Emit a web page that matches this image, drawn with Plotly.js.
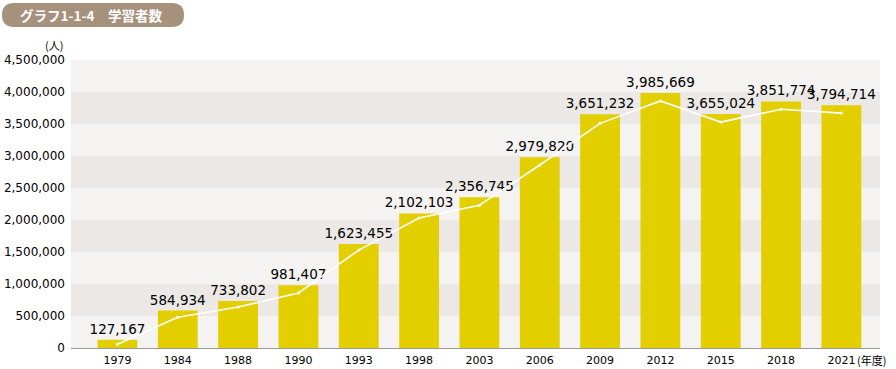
<!DOCTYPE html>
<html>
<head>
<meta charset="utf-8">
<script src="https://cdn.plot.ly/plotly-3.0.1.min.js"></script>
<style>html,body{margin:0;padding:0;background:#fff;}#chart{width:896px;height:369px;}</style>
</head>
<body>
<div id="chart"></div>
<script>
// ---- data ----
const years = ['1979','1984','1988','1990','1993','1998','2003','2006','2009','2012','2015','2018','2021'];
const learners = [127167, 584934, 733802, 981407, 1623455, 2102103, 2356745, 2979820, 3651232, 3985669, 3655024, 3851774, 3794714];
// white trend line
const lineValues = [60000, 480000, 640000, 860000, 1530000, 2030000, 2230000, 2860000, 3510000, 3860000, 3530000, 3730000, 3670000];
const labels = learners.map(v => v.toLocaleString('en-US'));
const titleText = 'グラフ1-1-4　学習者数';
const yUnit = '(人)';
const xUnit = '(年度)';

// ---- geometry helpers (layout) ----
const W = 896, H = 369;
const L = 71, R = 880, T = 60, B = 348;
const px = x => (x - L) / (R - L);
const py = y => (B - y) / (B - T);

const bands = [];
for (let k = 0; k < 9; k++) {
  bands.push({
    type: 'rect', xref: 'paper', yref: 'y', layer: 'below',
    x0: 0, x1: 1, y0: k * 500000, y1: (k + 1) * 500000,
    fillcolor: (k % 2 === 1) ? '#ebe8e5' : '#f5f3f1', line: {width: 0}
  });
}
// badge (pill)
const bx0 = 2, bx1 = 184, by0 = 3, by1 = 27, r = 12;
const badgePath =
  'M ' + px(bx0 + r) + ' ' + py(by0) +
  ' L ' + px(bx1 - r) + ' ' + py(by0) +
  ' Q ' + px(bx1) + ' ' + py(by0) + ' ' + px(bx1) + ' ' + py((by0 + by1) / 2) +
  ' Q ' + px(bx1) + ' ' + py(by1) + ' ' + px(bx1 - r) + ' ' + py(by1) +
  ' L ' + px(bx0 + r) + ' ' + py(by1) +
  ' Q ' + px(bx0) + ' ' + py(by1) + ' ' + px(bx0) + ' ' + py((by0 + by1) / 2) +
  ' Q ' + px(bx0) + ' ' + py(by0) + ' ' + px(bx0 + r) + ' ' + py(by0) + ' Z';
const shapes = bands.concat([
  {type: 'path', xref: 'paper', yref: 'paper', path: badgePath,
   fillcolor: '#a6917d', line: {width: 0}, layer: 'above'}
]);

const traces = [
  {
    type: 'bar', x: years, y: learners,
    marker: {color: '#e3cf00'},
    text: labels, textposition: 'outside', cliponaxis: false, constraintext: 'none',
    textfont: {family: 'DejaVu Sans', size: 13.5, color: '#000000'},
    hoverinfo: 'skip'
  },
  {
    type: 'scatter', mode: 'lines+markers', x: years, y: lineValues,
    line: {color: '#ffffff', width: 1.6},
    marker: {color: '#ffffff', size: 3},
    hoverinfo: 'skip', cliponaxis: false
  }
];

const layout = {
  width: W, height: H,
  margin: {l: L, r: W - R, t: T, b: H - B, pad: 0},
  paper_bgcolor: '#ffffff', plot_bgcolor: '#f5f3f1',
  showlegend: false, bargap: 0.34,
  font: {family: 'DejaVu Sans', color: '#000000'},
  xaxis: {
    type: 'category', range: [-0.77, 12.64], showgrid: false, zeroline: false,
    ticks: '', showline: true, linecolor: '#9a9a9a', linewidth: 1,
    tickfont: {family: 'DejaVu Sans', size: 11, color: '#000000'},
    ticklabelstandoff: 2
  },
  yaxis: {
    range: [0, 4500000], tickvals: [0,500000,1000000,1500000,2000000,2500000,3000000,3500000,4000000,4500000],
    tickformat: ',d', showgrid: false, zeroline: false, ticks: '', showline: false,
    tickfont: {family: 'DejaVu Sans', size: 12, color: '#000000'},
    ticklabelstandoff: 5
  },
  shapes: shapes,
  annotations: [
    {xref: 'paper', yref: 'paper', x: px((bx0 + bx1) / 2 - 2), y: py((by0 + by1) / 2),
     text: '<b>' + titleText + '</b>', showarrow: false, xanchor: 'center', yanchor: 'middle',
     font: {family: 'Noto Sans CJK JP', size: 13.5, color: '#ffffff'}},
    {xref: 'paper', yref: 'paper', x: px(65), y: py(45), text: yUnit, showarrow: false,
     xanchor: 'right', yanchor: 'middle', font: {family: 'Noto Sans CJK JP', size: 11, color: '#000000'}},
    {xref: 'paper', yref: 'paper', x: px(855), y: py(360), text: xUnit, showarrow: false,
     xanchor: 'left', yanchor: 'middle', font: {family: 'Noto Sans CJK JP', size: 11, color: '#000000'}}
  ]
};

Plotly.newPlot('chart', traces, layout, {displayModeBar: false, staticPlot: true});
</script>
</body>
</html>
